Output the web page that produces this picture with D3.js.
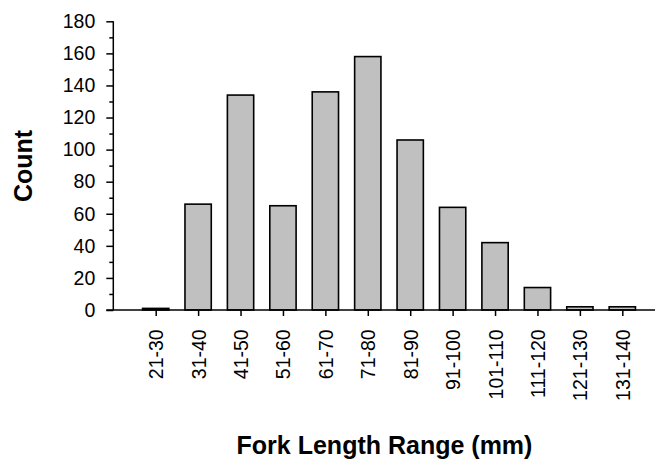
<!DOCTYPE html>
<html>
<head>
<meta charset="utf-8">
<script src="https://cdn.jsdelivr.net/npm/d3@7"></script>
<style>
  html, body { margin: 0; padding: 0; background: #fff; }
  svg { display: block; }
  text { font-family: "Liberation Sans", Arial, sans-serif; fill: #000; }
</style>
</head>
<body>
<svg id="chart" width="655" height="460"></svg>
<script>
const categories = ["21-30","31-40","41-50","51-60","61-70","71-80","81-90","91-100","101-110","111-120","121-130","131-140"];
const counts = [1, 66, 134, 65, 136, 158, 106, 64, 42, 14, 2, 2];
const yTicks = [0, 20, 40, 60, 80, 100, 120, 140, 160, 180];
const yMinorTicks = [10, 30, 50, 70, 90, 110, 130, 150, 170];
const xTitle = "Fork Length Range (mm)";
const yTitle = "Count";

const svg = d3.select("#chart");
const axisX0 = 113.3, axisX1 = 655;
const yBottom = 310, yTop = 21.3;

const x = d3.scalePoint().domain(categories).range([155.7, 622.3]);
const barW = x.step() * 0.62;
const y = d3.scaleLinear().domain([0, 180]).range([yBottom, yTop]);

// bars
svg.append("g").selectAll("rect").data(categories).join("rect")
  .attr("x", d => x(d) - barW / 2)
  .attr("width", barW)
  .attr("y", (d, i) => y(counts[i]))
  .attr("height", (d, i) => yBottom - y(counts[i]))
  .attr("fill", "#c0c0c0")
  .attr("stroke", "#000")
  .attr("stroke-width", 1.6);

// x axis
const xAxis = d3.axisBottom(x).tickSize(6).tickSizeOuter(0);
const gx = svg.append("g").attr("transform", `translate(0,${yBottom})`).call(xAxis);
gx.select(".domain").remove();
gx.selectAll(".tick line").attr("stroke", "#000").attr("stroke-width", 1.5);
gx.selectAll(".tick text")
  .attr("font-size", "19.5px")
  .attr("transform", "translate(0,19.3) rotate(-90)")
  .attr("text-anchor", "end")
  .attr("x", 0).attr("y", 0).attr("dy", "0.36em");
svg.append("line")
  .attr("x1", axisX0 - 7).attr("x2", axisX1)
  .attr("y1", yBottom).attr("y2", yBottom)
  .attr("stroke", "#000").attr("stroke-width", 1.5);

// y axis
const yAxis = d3.axisLeft(y).tickValues(yTicks).tickSize(7).tickSizeOuter(0).tickPadding(11);
const gy = svg.append("g").attr("transform", `translate(${axisX0},0)`).call(yAxis);
gy.select(".domain").remove();
gy.selectAll(".tick line").attr("stroke", "#000").attr("stroke-width", 1.5);
gy.selectAll(".tick text").attr("font-size", "19.5px");
const yMinor = d3.axisLeft(y).tickValues(yMinorTicks).tickSize(4).tickFormat("");
const gym = svg.append("g").attr("transform", `translate(${axisX0},0)`).call(yMinor);
gym.select(".domain").remove();
gym.selectAll(".tick line").attr("stroke", "#000").attr("stroke-width", 1.5);
svg.append("line")
  .attr("x1", axisX0).attr("x2", axisX0)
  .attr("y1", yTop).attr("y2", yBottom)
  .attr("stroke", "#000").attr("stroke-width", 1.5);

// titles
svg.append("text")
  .attr("x", 384.5).attr("y", 454)
  .attr("text-anchor", "middle")
  .attr("font-size", "25px").attr("font-weight", "bold")
  .text(xTitle);
svg.append("text")
  .attr("transform", "translate(31.5,166) rotate(-90)")
  .attr("text-anchor", "middle")
  .attr("font-size", "25px").attr("font-weight", "bold")
  .text(yTitle);
</script>
</body>
</html>
